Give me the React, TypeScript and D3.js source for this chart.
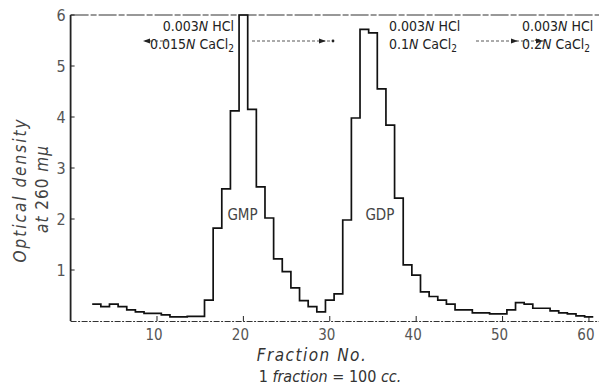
import React, { useEffect, useRef } from 'react';
import * as d3 from 'd3';

// fraction numbers and optical density at 260 mμ
const fractions = [
  3, 4, 5, 6, 7, 8, 9, 10, 11, 12, 13, 14, 15, 16, 17, 18, 19, 20, 21, 22,
  23, 24, 25, 26, 27, 28, 29, 30, 31, 32, 33, 34, 35, 36, 37, 38, 39, 40, 41, 42,
  43, 44, 45, 46, 47, 48, 49, 50, 51, 52, 53, 54, 55, 56, 57, 58, 59, 60
];
const density = [
  0.33, 0.28, 0.33, 0.28, 0.22, 0.18, 0.15, 0.15, 0.12, 0.08, 0.08, 0.09, 0.09, 0.41, 1.82, 2.59, 4.12, 6.0, 4.15, 2.63,
  2.02, 1.22, 0.97, 0.65, 0.40, 0.28, 0.18, 0.41, 0.53, 1.98, 3.98, 5.72, 5.65, 4.55, 3.84, 2.41, 1.1, 0.9, 0.57, 0.48,
  0.41, 0.33, 0.22, 0.22, 0.16, 0.16, 0.14, 0.14, 0.22, 0.36, 0.33, 0.25, 0.25, 0.2, 0.16, 0.14, 0.1, 0.08
];
const xTicks = [10, 20, 30, 40, 50, 60];
const yTicks = [1, 2, 3, 4, 5, 6];

const W = 599;
const H = 388;
const narrow = "'Liberation Sans Narrow', 'DejaVu Sans Condensed', 'Liberation Sans', sans-serif";
const ink = '#222';
const grey = '#555';

export default function App() {
  const ref = useRef<SVGSVGElement>(null);

  useEffect(() => {
    const svg = d3.select(ref.current);
    svg.selectAll('*').remove();

    const x = d3.scaleLinear().domain([0, 61]).range([70.6, 597.6]);
    const y = d3.scaleLinear().domain([0, 6]).range([321, 15]);

    // frame: left axis, top line, bottom axis
    svg.append('line').attr('x1', x(0)).attr('x2', x(0)).attr('y1', y(6)).attr('y2', y(0))
      .attr('stroke', ink).attr('stroke-width', 1.8);
    svg.append('line').attr('x1', x(0)).attr('x2', W).attr('y1', y(6)).attr('y2', y(6))
      .attr('stroke', '#333').attr('stroke-width', 1.2).attr('stroke-dasharray', '18 2 6 2');
    svg.append('line').attr('x1', x(0)).attr('x2', W).attr('y1', y(0) + 0.5).attr('y2', y(0) + 0.5)
      .attr('stroke', '#333').attr('stroke-width', 1).attr('stroke-dasharray', '6 1.5 2 1.5');

    // y ticks
    const yg = svg.append('g');
    yg.selectAll('line').data(yTicks).enter().append('line')
      .attr('x1', x(0)).attr('x2', x(0) + 4).attr('y1', d => y(d)).attr('y2', d => y(d))
      .attr('stroke', ink).attr('stroke-width', 1);
    yg.selectAll('text').data(yTicks).enter().append('text')
      .attr('x', x(0) - 5).attr('y', d => y(d) + 6)
      .attr('text-anchor', 'end')
      .style('font-family', narrow).style('font-size', '16px').style('fill', grey)
      .text(d => d);

    // x ticks
    const xg = svg.append('g');
    xg.selectAll('line').data(xTicks).enter().append('line')
      .attr('x1', d => x(d)).attr('x2', d => x(d)).attr('y1', y(0)).attr('y2', y(0) - 5)
      .attr('stroke', ink).attr('stroke-width', 1);
    xg.selectAll('text').data(xTicks).enter().append('text')
      .attr('x', d => x(d) - 3).attr('y', y(0) + 19)
      .attr('text-anchor', 'middle')
      .style('font-family', narrow).style('font-size', '15px').style('fill', grey)
      .text(d => d);

    // step histogram
    const pts: [number, number][] = fractions.map((f, i) => [f - 0.5, density[i]]);
    pts.push([fractions[fractions.length - 1] + 0.5, density[density.length - 1]]);
    const line = d3.line<[number, number]>()
      .x(d => x(d[0]))
      .y(d => y(Math.min(d[1], 6)))
      .curve(d3.curveStepAfter);
    svg.append('path').attr('d', line(pts) as string)
      .attr('fill', 'none').attr('stroke', '#111').attr('stroke-width', 1.7);

    // peak labels
    const peakLbl = (t: string, f: number) => svg.append('text')
      .attr('x', x(f)).attr('y', y(1.98))
      .attr('text-anchor', 'middle')
      .style('font-family', narrow).style('font-size', '15px').style('fill', '#444')
      .text(t);
    peakLbl('GMP', 19.9);
    peakLbl('GDP', 35.8);

    // eluent annotations
    const eluent = (xr: number, anchor: string, l1: string, n1: string, l2: string, n2: string, tail: string, sub: string) => {
      const t1 = svg.append('text').attr('x', xr).attr('y', 31).attr('text-anchor', anchor)
        .style('font-family', narrow).style('font-size', '14px').style('fill', ink);
      t1.append('tspan').text(l1);
      t1.append('tspan').style('font-style', 'italic').text('N');
      t1.append('tspan').text(n1);
      const t2 = svg.append('text').attr('x', xr).attr('y', 49).attr('text-anchor', anchor)
        .style('font-family', narrow).style('font-size', '14px').style('fill', ink);
      t2.append('tspan').text(l2);
      t2.append('tspan').style('font-style', 'italic').text('N');
      t2.append('tspan').text(n2);
      t2.append('tspan').text(tail);
      t2.append('tspan').attr('dy', 3).style('font-size', '10px').text(sub);
    };
    eluent(234, 'end', '0.003', ' HCl', '0.015', ' ', 'CaCl', '2');
    eluent(389, 'start', '0.003', ' HCl', '0.1', '  ', 'CaCl', '2');
    eluent(522, 'start', '0.003', ' HCl', '0.2', ' ', 'CaCl', '2');

    // dotted guide lines with arrowheads
    const guide = (x1: number, x2: number) => svg.append('line')
      .attr('x1', x1).attr('x2', x2).attr('y1', 41).attr('y2', 41)
      .attr('stroke', '#444').attr('stroke-width', 0.9).attr('stroke-dasharray', '3 2');
    const head = (xt: number, dir: number) => svg.append('path')
      .attr('d', `M${xt},41 L${xt - dir * 7},38.5 L${xt - dir * 7},43.5 Z`)
      .attr('fill', ink);
    guide(145, 168); head(143, -1);
    guide(252, 333); head(326, 1); svg.append('circle').attr('cx', 333).attr('cy', 41).attr('r', 1.4).attr('fill', ink);
    guide(476, 545); head(518, 1); head(543, 1);

    // axis titles
    const yt = svg.append('g').attr('transform', 'translate(26,190) rotate(-90)');
    yt.append('text').attr('x', 0).attr('y', 0).attr('text-anchor', 'middle')
      .style('font-family', narrow).style('font-size', '17px').style('font-style', 'italic')
      .style('fill', '#444').style('letter-spacing', '2px').text('Optical  density');
    const yt2 = svg.append('g').attr('transform', 'translate(48,189) rotate(-90)');
    const a = yt2.append('text').attr('x', 0).attr('y', 0).attr('text-anchor', 'middle')
      .style('font-family', narrow).style('font-size', '17px').style('fill', '#444').style('letter-spacing', '1px');
    a.append('tspan').style('font-style', 'italic').text('at ');
    a.append('tspan').text('260 ');
    a.append('tspan').style('font-style', 'italic').text('mμ');

    svg.append('text').attr('x', 312).attr('y', 361).attr('text-anchor', 'middle')
      .style('font-family', narrow).style('font-size', '17px').style('font-style', 'italic')
      .style('fill', '#333').style('letter-spacing', '1.5px').text('Fraction   No.');
    const ft = svg.append('text').attr('x', 330).attr('y', 382).attr('text-anchor', 'middle')
      .style('font-family', narrow).style('font-size', '16px').style('fill', '#333');
    ft.append('tspan').text('1 ');
    ft.append('tspan').style('font-style', 'italic').text('fraction');
    ft.append('tspan').text(' = 100 ');
    ft.append('tspan').style('font-style', 'italic').text('cc.');
  }, []);

  return (
    <div style={{ position: 'absolute', left: 0, top: 0, background: '#fff' }}>
      <svg ref={ref} width={W} height={H} style={{ display: 'block' }} />
    </div>
  );
}
